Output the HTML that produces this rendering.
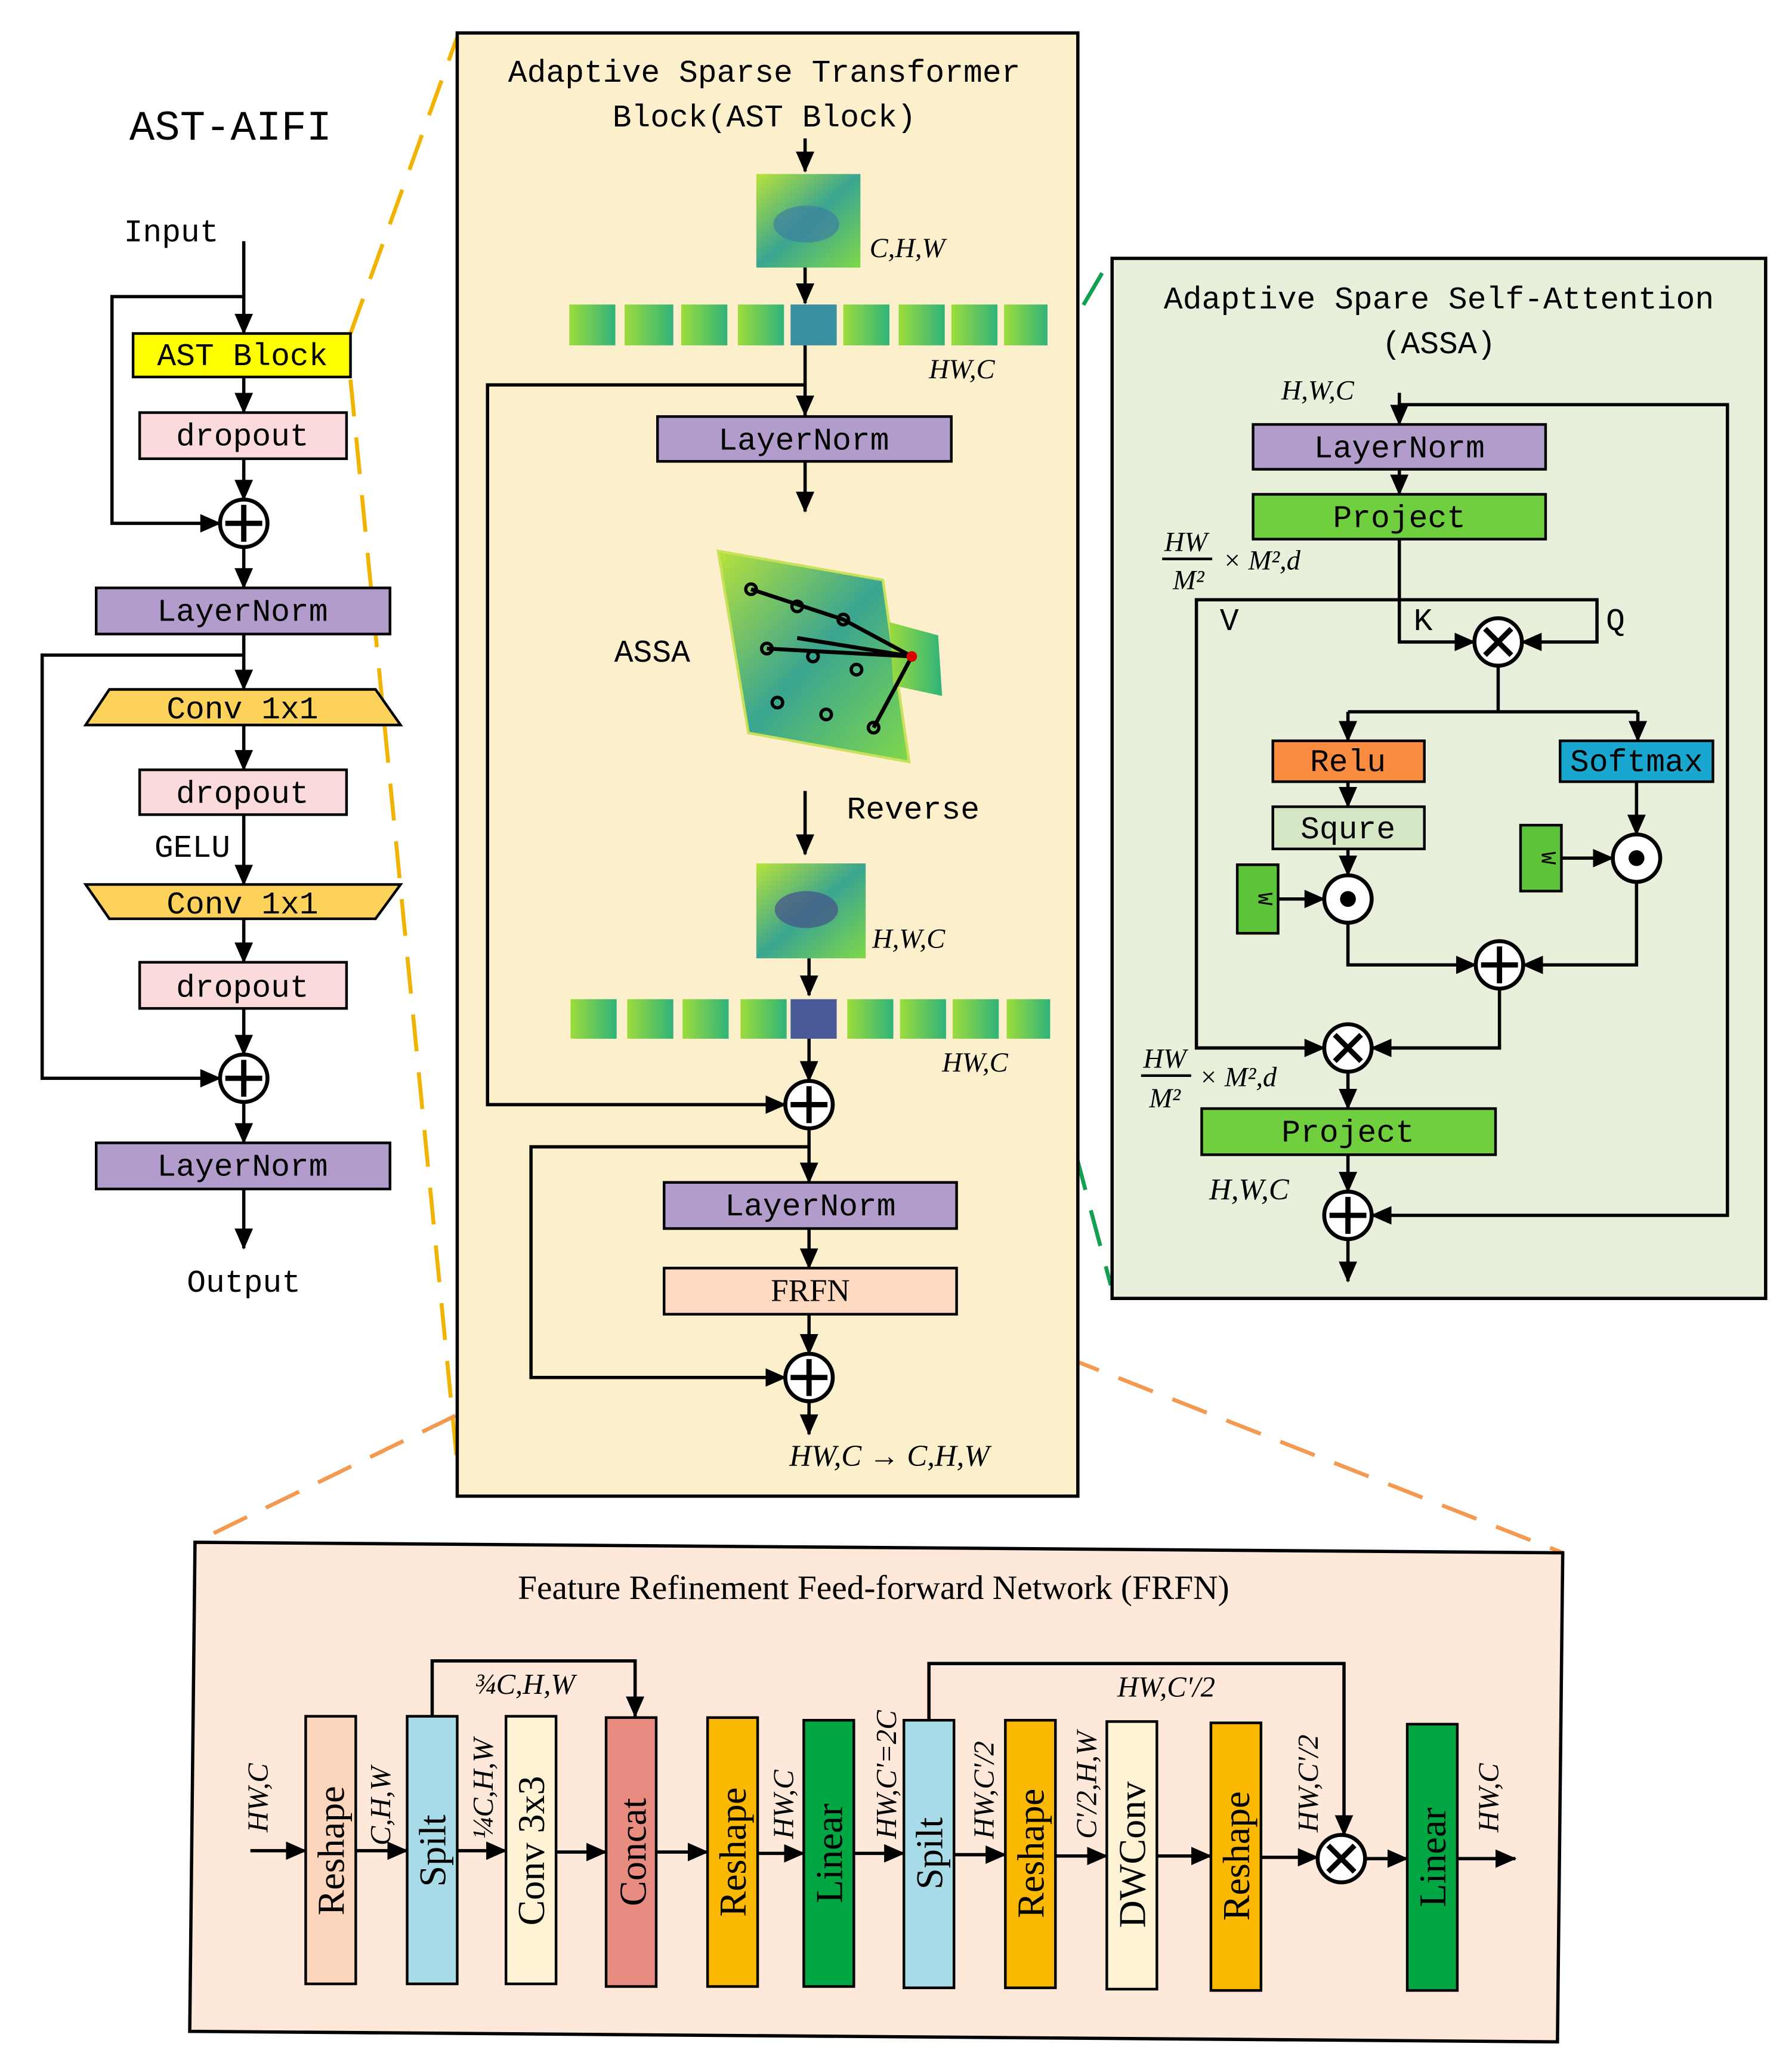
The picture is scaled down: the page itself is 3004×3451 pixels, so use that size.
<!DOCTYPE html>
<html><head><meta charset="utf-8"><style>
html,body{margin:0;padding:0;background:#fff}
svg{display:block}
.m{font-family:"Liberation Mono","Noto Sans CJK SC",monospace;font-size:24px;fill:#000}
.s{font-family:"Liberation Serif",serif;font-size:22px;fill:#000}
.i{font-family:"Liberation Serif",serif;font-style:italic;font-size:21px;fill:#000}
.l{stroke:#000;stroke-width:2.5;fill:none}
.b{stroke:#000;stroke-width:2}
</style></head><body>
<svg width="3004" height="3451" viewBox="0 0 1360 1562" preserveAspectRatio="none" xmlns="http://www.w3.org/2000/svg">
<defs>
<marker id="a" markerUnits="userSpaceOnUse" markerWidth="16" markerHeight="14" refX="15" refY="7" orient="auto"><path d="M0,0 L16,7 L0,14 Z" fill="#000"/></marker>
<linearGradient id="g1" x1="0" y1="0" x2="1" y2="1"><stop offset="0" stop-color="#b8e23a"/><stop offset="0.5" stop-color="#3aa590"/><stop offset="1" stop-color="#7fd84a"/></linearGradient>
<linearGradient id="g2" x1="0" y1="0" x2="1" y2="0"><stop offset="0" stop-color="#9ddc3c"/><stop offset="1" stop-color="#2fb37a"/></linearGradient>
<g id="plus"><circle r="18" fill="#fff" stroke="#000" stroke-width="3"/><path d="M-14,0H14M0,-14V14" stroke="#000" stroke-width="4"/></g>
<g id="times"><circle r="18" fill="#fff" stroke="#000" stroke-width="3"/><path d="M-10,-10L10,10M10,-10L-10,10" stroke="#000" stroke-width="4"/></g>
<g id="dot"><circle r="18" fill="#fff" stroke="#000" stroke-width="3"/><circle r="6" fill="#000"/></g>
</defs>

<g fill="none" stroke-width="3" stroke-dasharray="28,16">
<path d="M266,253L347,28M266,288L347,1110" stroke="#f0b400"/>
<path d="M733,383L843,196M760,663L843,975" stroke="#12a050"/>
<path d="M504,997L148,1170M726,997L1186,1178" stroke="#f39a50"/>
</g>

<!-- LEFT -->
<text x="175" y="106" class="m" style="font-size:32px" text-anchor="middle">AST-AIFI</text>
<text x="130" y="183" class="m" text-anchor="middle">Input</text>
<path class="l" d="M185,183V253" marker-end="url(#a)"/>
<path class="l" d="M185,225H85V397H167" marker-end="url(#a)"/>
<rect x="101" y="253" width="165" height="33" fill="#ffff00" class="b"/>
<text x="184" y="277" class="m" text-anchor="middle">AST Block</text>
<path class="l" d="M185,286V313" marker-end="url(#a)"/>
<rect x="106" y="313" width="157" height="35" fill="#fadada" class="b"/>
<text x="184" y="338" class="m" text-anchor="middle">dropout</text>
<path class="l" d="M185,348V379" marker-end="url(#a)"/>
<use href="#plus" x="185" y="397"/>
<path class="l" d="M185,415V446" marker-end="url(#a)"/>
<rect x="73" y="446" width="223" height="35" fill="#b19ccc" class="b"/>
<text x="184" y="471" class="m" text-anchor="middle">LayerNorm</text>
<path class="l" d="M185,481V523" marker-end="url(#a)"/>
<path class="l" d="M185,497H32V818H167" marker-end="url(#a)"/>
<path d="M83,523H285L304,550H65Z" fill="#fcd25a" class="b"/>
<text x="184" y="545" class="m" text-anchor="middle">Conv 1x1</text>
<path class="l" d="M185,550V584" marker-end="url(#a)"/>
<rect x="106" y="584" width="157" height="34" fill="#fadada" class="b"/>
<text x="184" y="609" class="m" text-anchor="middle">dropout</text>
<text x="146" y="650" class="m" text-anchor="middle">GELU</text>
<path class="l" d="M185,618V671" marker-end="url(#a)"/>
<path d="M65,671H304L285,697H83Z" fill="#fcd25a" class="b"/>
<text x="184" y="693" class="m" text-anchor="middle">Conv 1x1</text>
<path class="l" d="M185,697V730" marker-end="url(#a)"/>
<rect x="106" y="730" width="157" height="35" fill="#fadada" class="b"/>
<text x="184" y="756" class="m" text-anchor="middle">dropout</text>
<path class="l" d="M185,765V800" marker-end="url(#a)"/>
<use href="#plus" x="185" y="818"/>
<path class="l" d="M185,836V867" marker-end="url(#a)"/>
<rect x="73" y="867" width="223" height="35" fill="#b19ccc" class="b"/>
<text x="184" y="892" class="m" text-anchor="middle">LayerNorm</text>
<path class="l" d="M185,902V947" marker-end="url(#a)"/>
<text x="185" y="980" class="m" text-anchor="middle">Output</text>

<!-- MIDDLE -->
<rect x="347" y="25" width="471" height="1110" fill="#fcefcb" stroke="#000" stroke-width="2.5"/>
<text x="580" y="62" class="m" text-anchor="middle">Adaptive Sparse Transformer</text>
<text x="580" y="96" class="m" text-anchor="middle">Block(AST Block)</text>
<path class="l" d="M611,105V130" marker-end="url(#a)"/>
<rect x="574" y="132" width="79" height="71" fill="url(#g1)"/>
<ellipse cx="612" cy="170" rx="25" ry="14" fill="#3d7fa0" opacity="0.7"/>
<text x="660" y="195" class="i">C,H,W</text>
<path class="l" d="M611,203V230" marker-end="url(#a)"/>
<g fill="url(#g2)">
<rect x="432" y="231" width="35" height="31"/><rect x="474" y="231" width="37" height="31"/><rect x="517" y="231" width="35" height="31"/><rect x="560" y="231" width="35" height="31"/><rect x="600" y="231" width="35" height="31" fill="#3a8fa0"/><rect x="640" y="231" width="35" height="31"/><rect x="682" y="231" width="35" height="31"/><rect x="722" y="231" width="35" height="31"/><rect x="762" y="231" width="33" height="31"/>
</g>
<text x="705" y="287" class="i">HW,C</text>
<path class="l" d="M611,262V315" marker-end="url(#a)"/>
<path class="l" d="M611,292H370V838H596" marker-end="url(#a)"/>
<rect x="499" y="316" width="223" height="34" fill="#b19ccc" class="b"/>
<text x="610" y="341" class="m" text-anchor="middle">LayerNorm</text>
<path class="l" d="M611,350V388" marker-end="url(#a)"/>
<path d="M545,418L670,440L690,578L568,556Z" fill="url(#g1)" stroke="#c9e05a" stroke-width="2"/>
<path d="M675,472L712,482L715,528L678,520Z" fill="url(#g2)"/>
<path d="M570,447L640,470L692,498L663,552M582,492L692,498M605,484L692,498" stroke="#000" stroke-width="3" fill="none"/>
<g fill="none" stroke="#000" stroke-width="2.5"><circle cx="570" cy="447" r="4"/><circle cx="605" cy="460" r="4"/><circle cx="640" cy="470" r="4"/><circle cx="582" cy="492" r="4"/><circle cx="617" cy="498" r="4"/><circle cx="650" cy="508" r="4"/><circle cx="590" cy="533" r="4"/><circle cx="627" cy="542" r="4"/><circle cx="663" cy="552" r="4"/></g>
<circle cx="692" cy="498" r="4" fill="#d00"/>
<text x="495" y="502" class="m" text-anchor="middle">ASSA</text>
<path class="l" d="M611,600V648" marker-end="url(#a)"/>
<text x="693" y="621" class="m" text-anchor="middle">Reverse</text>
<rect x="574" y="655" width="83" height="72" fill="url(#g1)"/>
<ellipse cx="612" cy="690" rx="24" ry="14" fill="#46508a" opacity="0.7"/>
<text x="662" y="719" class="i">H,W,C</text>
<path class="l" d="M614,727V755" marker-end="url(#a)"/>
<g fill="url(#g2)">
<rect x="433" y="758" width="35" height="30"/><rect x="476" y="758" width="35" height="30"/><rect x="518" y="758" width="35" height="30"/><rect x="562" y="758" width="35" height="30"/><rect x="600" y="758" width="35" height="30" fill="#4a5a98"/><rect x="643" y="758" width="35" height="30"/><rect x="683" y="758" width="35" height="30"/><rect x="723" y="758" width="35" height="30"/><rect x="764" y="758" width="33" height="30"/>
</g>
<text x="715" y="813" class="i">HW,C</text>
<path class="l" d="M614,788V820" marker-end="url(#a)"/>
<use href="#plus" x="614" y="838"/>
<path class="l" d="M614,856V897" marker-end="url(#a)"/>
<path class="l" d="M614,870H403V1045H596" marker-end="url(#a)"/>
<rect x="504" y="897" width="222" height="35" fill="#b19ccc" class="b"/>
<text x="615" y="922" class="m" text-anchor="middle">LayerNorm</text>
<path class="l" d="M614,932V962" marker-end="url(#a)"/>
<rect x="504" y="962" width="222" height="35" fill="#fcd9bf" class="b"/>
<text x="615" y="987" class="s" style="font-size:24px" text-anchor="middle">FRFN</text>
<path class="l" d="M614,997V1027" marker-end="url(#a)"/>
<use href="#plus" x="614" y="1045"/>
<path class="l" d="M614,1063V1088" marker-end="url(#a)"/>
<text x="675" y="1112" class="i" style="font-size:23px" text-anchor="middle">HW,C → C,H,W</text>

<!-- RIGHT -->
<rect x="844" y="196" width="496" height="789" fill="#e8f0dc" stroke="#000" stroke-width="2.5"/>
<text x="1092" y="234" class="m" text-anchor="middle">Adaptive Spare Self-Attention</text>
<text x="1092" y="268" class="m" text-anchor="middle">(ASSA)</text>
<text x="1000" y="303" class="i" text-anchor="middle">H,W,C</text>
<path class="l" d="M1062,298V322" marker-end="url(#a)"/>
<path class="l" d="M1062,307H1311V922H1041" marker-end="url(#a)"/>
<rect x="951" y="322" width="222" height="34" fill="#b19ccc" class="b"/>
<text x="1062" y="347" class="m" text-anchor="middle">LayerNorm</text>
<path class="l" d="M1062,356V375" marker-end="url(#a)"/>
<rect x="951" y="375" width="222" height="34" fill="#6fcf3f" class="b"/>
<text x="1062" y="400" class="m" text-anchor="middle">Project</text>
<text x="900" y="418" class="i" text-anchor="middle">HW</text><path d="M882,424H920" class="b"/>
<text x="902" y="447" class="i" text-anchor="middle">M²</text>
<text x="928" y="432" class="i">× M²,d</text>
<path class="l" d="M1062,409V487H1119" marker-end="url(#a)"/>
<path class="l" d="M1062,455H908V795H1005" marker-end="url(#a)"/>
<path class="l" d="M1062,455H1212V487H1155" marker-end="url(#a)"/>
<text x="933" y="478" class="m" text-anchor="middle">V</text>
<text x="1080" y="478" class="m" text-anchor="middle">K</text>
<text x="1226" y="478" class="m" text-anchor="middle">Q</text>
<use href="#times" x="1137" y="487"/>
<path class="l" d="M1137,505V540"/>
<path class="l" d="M1023,540H1243"/>
<path class="l" d="M1023,540V562" marker-end="url(#a)"/>
<path class="l" d="M1243,540V562" marker-end="url(#a)"/>
<rect x="966" y="562" width="115" height="31" fill="#f98c40" class="b"/>
<text x="1023" y="585" class="m" text-anchor="middle">Relu</text>
<rect x="1184" y="562" width="116" height="31" fill="#1aa7cf" class="b"/>
<text x="1242" y="585" class="m" text-anchor="middle">Softmax</text>
<path class="l" d="M1023,593V612" marker-end="url(#a)"/>
<rect x="966" y="612" width="115" height="32" fill="#d5e6c5" class="b"/>
<text x="1023" y="636" class="m" text-anchor="middle">Squre</text>
<path class="l" d="M1023,644V664" marker-end="url(#a)"/>
<use href="#dot" x="1023" y="682"/>
<rect x="939" y="656" width="31" height="52" fill="#5cc33a" class="b"/>
<text x="955" y="682" class="m" style="font-size:16px" text-anchor="middle" transform="rotate(90 955 682)">W</text>
<path class="l" d="M970,682H1005" marker-end="url(#a)"/>
<path class="l" d="M1242,593V633" marker-end="url(#a)"/>
<use href="#dot" x="1242" y="651"/>
<rect x="1154" y="626" width="31" height="50" fill="#5cc33a" class="b"/>
<text x="1170" y="651" class="m" style="font-size:16px" text-anchor="middle" transform="rotate(90 1170 651)">W</text>
<path class="l" d="M1185,651H1224" marker-end="url(#a)"/>
<path class="l" d="M1023,700V732H1120" marker-end="url(#a)"/>
<path class="l" d="M1242,669V732H1156" marker-end="url(#a)"/>
<use href="#plus" x="1138" y="732"/>
<path class="l" d="M1138,750V795H1041" marker-end="url(#a)"/>
<use href="#times" x="1023" y="795"/>
<text x="884" y="810" class="i" text-anchor="middle">HW</text><path d="M866,816H904" class="b"/>
<text x="884" y="840" class="i" text-anchor="middle">M²</text>
<text x="910" y="824" class="i">× M²,d</text>
<path class="l" d="M1023,813V841" marker-end="url(#a)"/>
<rect x="912" y="841" width="223" height="35" fill="#6fcf3f" class="b"/>
<text x="1023" y="866" class="m" text-anchor="middle">Project</text>
<text x="948" y="910" class="i" style="font-size:23px" text-anchor="middle">H,W,C</text>
<path class="l" d="M1023,876V904" marker-end="url(#a)"/>
<use href="#plus" x="1023" y="922"/>
<path class="l" d="M1023,940V972" marker-end="url(#a)"/>

<!-- BOTTOM -->
<path d="M148,1170L1186,1178L1182,1549L144,1541Z" fill="#fde8d9" stroke="#000" stroke-width="2.5"/>
<text x="663" y="1213" class="s" style="font-size:26px" text-anchor="middle">Feature Refinement Feed-forward Network (FRFN)</text>
<g class="b">
<rect x="232" y="1302" width="38" height="203" fill="#fcd6bc"/>
<rect x="309" y="1302" width="38" height="203" fill="#a8dbe8"/>
<rect x="384" y="1302" width="38" height="203" fill="#fdf3d4"/>
<rect x="460" y="1303" width="38" height="204" fill="#e88c82"/>
<rect x="537" y="1303" width="38" height="204" fill="#fbb800"/>
<rect x="610" y="1305" width="38" height="202" fill="#00a642"/>
<rect x="686" y="1305" width="38" height="203" fill="#a8dbe8"/>
<rect x="763" y="1305" width="38" height="203" fill="#fbb800"/>
<rect x="840" y="1306" width="38" height="203" fill="#fdf3d4"/>
<rect x="919" y="1307" width="38" height="203" fill="#fbb800"/>
<rect x="1068" y="1308" width="38" height="202" fill="#00a642"/>
</g>
<g class="s" style="font-size:29px" text-anchor="middle">
<text transform="translate(261,1404) rotate(-90)">Reshape</text>
<text transform="translate(338,1404) rotate(-90)">Spilt</text>
<text transform="translate(413,1404) rotate(-90)">Conv 3x3</text>
<text transform="translate(490,1405) rotate(-90)">Concat</text>
<text transform="translate(566,1405) rotate(-90)">Reshape</text>
<text transform="translate(639,1406) rotate(-90)">Linear</text>
<text transform="translate(715,1406) rotate(-90)">Spilt</text>
<text transform="translate(792,1406) rotate(-90)">Reshape</text>
<text transform="translate(869,1407) rotate(-90)">DWConv</text>
<text transform="translate(948,1408) rotate(-90)">Reshape</text>
<text transform="translate(1097,1409) rotate(-90)">Linear</text>
</g>
<g class="l">
<path d="M190,1404H232" marker-end="url(#a)"/>
<path d="M270,1404H309" marker-end="url(#a)"/>
<path d="M347,1404H384" marker-end="url(#a)"/>
<path d="M422,1405H460" marker-end="url(#a)"/>
<path d="M498,1405H537" marker-end="url(#a)"/>
<path d="M575,1406H610" marker-end="url(#a)"/>
<path d="M648,1406H686" marker-end="url(#a)"/>
<path d="M724,1407H763" marker-end="url(#a)"/>
<path d="M801,1408H840" marker-end="url(#a)"/>
<path d="M878,1408H919" marker-end="url(#a)"/>
<path d="M957,1409H1000" marker-end="url(#a)"/>
<path d="M1036,1410H1068" marker-end="url(#a)"/>
<path d="M1106,1410H1150" marker-end="url(#a)"/>
<path d="M328,1302V1260H482V1302" marker-end="url(#a)"/>
<path d="M705,1305V1262H1020V1392" marker-end="url(#a)"/>
</g>
<use href="#times" x="1018" y="1410"/>
<g class="i" style="font-size:22px">
<text transform="translate(203,1390) rotate(-90)">HW,C</text>
<text transform="translate(296,1400) rotate(-90)">C,H,W</text>
<text transform="translate(374,1395) rotate(-90)">¼C,H,W</text>
<text x="360" y="1285">¾C,H,W</text>
<text transform="translate(602,1395) rotate(-90)">HW,C</text>
<text transform="translate(680,1395) rotate(-90)">HW,C'=2C</text>
<text transform="translate(754,1395) rotate(-90)">HW,C'/2</text>
<text transform="translate(832,1395) rotate(-90)">C'/2,H,W</text>
<text x="848" y="1287">HW,C'/2</text>
<text transform="translate(1000,1390) rotate(-90)">HW,C'/2</text>
<text transform="translate(1137,1390) rotate(-90)">HW,C</text>
</g>
</svg>
</body></html>
